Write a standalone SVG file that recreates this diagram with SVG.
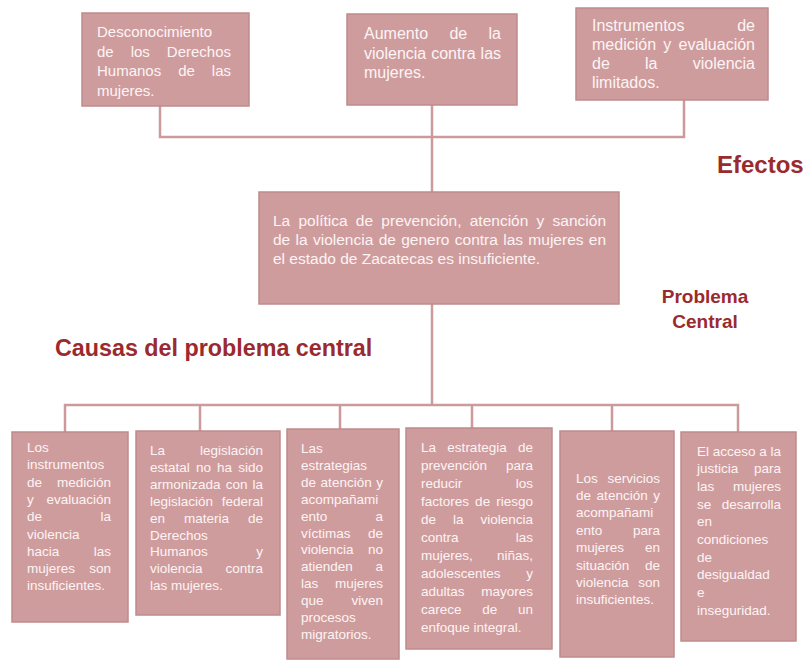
<svg xmlns="http://www.w3.org/2000/svg" width="804" height="662" viewBox="0 0 804 662">
<style>
.box{fill:#cf9c9e;stroke:#bf8b8d;stroke-width:1.5}
.ln{stroke:#cd9a9c;stroke-width:2.5;fill:none}
.t{font-family:"Liberation Sans",Arial,sans-serif;fill:#fdf4f4}
.s{font-size:13.5px}
.m{font-size:15px}
.l{font-size:16px}
.c{font-size:15.5px}
.h{font-family:"Liberation Sans",Arial,sans-serif;font-weight:bold;fill:#9b2a2f}
</style>
<rect width="804" height="662" fill="#ffffff"/>
<g id="connectors">
<path class="ln" d="M160,106V137H684V100"/>
<path class="ln" d="M432,105V192"/>
<path class="ln" d="M432,304V405"/>
<path class="ln" d="M65,432V405H738V432"/>
<path class="ln" d="M200,405V431M340,405V429M472,405V428M612,405V431"/>
</g>
<g id="efecto1">
<rect class="box" x="82" y="13" width="167" height="93"/>
<text class="t m"><tspan x="97" y="37">Desconocimiento</tspan><tspan x="97" y="56.5" word-spacing="12.81">de los Derechos</tspan><tspan x="97" y="76" word-spacing="12.81">Humanos de las</tspan><tspan x="97" y="95.5">mujeres.</tspan></text>
</g>
<g id="efecto2">
<rect class="box" x="347" y="14" width="170" height="91"/>
<text class="t l"><tspan x="364" y="39" word-spacing="16.92">Aumento de la</tspan><tspan x="364" y="59" word-spacing="0.48">violencia contra las</tspan><tspan x="364" y="78">mujeres.</tspan></text>
</g>
<g id="efecto3">
<rect class="box" x="576" y="8" width="192" height="92"/>
<text class="t l"><tspan x="592" y="30.5" word-spacing="48.28">Instrumentos de</tspan><tspan x="592" y="49.5" word-spacing="2.8">medición y evaluación</tspan><tspan x="592" y="68.5" word-spacing="30.81">de la violencia</tspan><tspan x="592" y="87.5">limitados.</tspan></text>
</g>
<g id="label-efectos">
<text class="h" x="717" y="173" font-size="24">Efectos</text>
</g>
<g id="problema-central">
<rect class="box" x="259" y="192" width="360" height="112"/>
<text class="t c"><tspan x="273" y="226" word-spacing="3.95">La política de prevención, atención y sanción</tspan><tspan x="273" y="245" word-spacing="1.03">de la violencia de genero contra las mujeres en</tspan><tspan x="273" y="264">el estado de Zacatecas es insuficiente.</tspan></text>
</g>
<g id="label-problema">
<text class="h" font-size="19" text-anchor="middle"><tspan x="705" y="303">Problema</tspan><tspan x="705" y="328">Central</tspan></text>
</g>
<g id="label-causas">
<text class="h" x="55" y="356" font-size="23.3">Causas del problema central</text>
</g>
<g id="causa1">
<rect class="box" x="12" y="432" width="116" height="190"/>
<text class="t s"><tspan x="27" y="452">Los</tspan><tspan x="27" y="469.3">instrumentos</tspan><tspan x="27" y="486.6" word-spacing="11.22">de medición</tspan><tspan x="27" y="503.9" word-spacing="8.97">y evaluación</tspan><tspan x="27" y="521.2" word-spacing="54.73">de la</tspan><tspan x="27" y="538.5">violencia</tspan><tspan x="27" y="555.8" word-spacing="30.73">hacia las</tspan><tspan x="27" y="573.1" word-spacing="10.48">mujeres son</tspan><tspan x="27" y="590.4">insuficientes.</tspan></text>
</g>
<g id="causa2">
<rect class="box" x="136" y="431" width="144" height="184"/>
<text class="t s"><tspan x="150" y="455" word-spacing="31.22">La legislación</tspan><tspan x="150" y="471.9" word-spacing="2.4">estatal no ha sido</tspan><tspan x="150" y="488.8" word-spacing="1.35">armonizada con la</tspan><tspan x="150" y="505.7" word-spacing="4.96">legislación federal</tspan><tspan x="150" y="522.6" word-spacing="15.23">en materia de</tspan><tspan x="150" y="539.5">Derechos</tspan><tspan x="150" y="556.4" word-spacing="44.73">Humanos y</tspan><tspan x="150" y="573.3" word-spacing="19.22">violencia contra</tspan><tspan x="150" y="590.2">las mujeres.</tspan></text>
</g>
<g id="causa3">
<rect class="box" x="287" y="429" width="112" height="230"/>
<text class="t s"><tspan x="301" y="453">Las</tspan><tspan x="301" y="469.9">estrategias</tspan><tspan x="301" y="486.8" word-spacing="0.85">de atención y</tspan><tspan x="301" y="503.7">acompañami</tspan><tspan x="301" y="520.6" word-spacing="44.47">ento a</tspan><tspan x="301" y="537.5" word-spacing="13.73">víctimas de</tspan><tspan x="301" y="554.4" word-spacing="10.72">violencia no</tspan><tspan x="301" y="571.3" word-spacing="18.95">atienden a</tspan><tspan x="301" y="588.2" word-spacing="12.99">las mujeres</tspan><tspan x="301" y="605.1" word-spacing="24.22">que viven</tspan><tspan x="301" y="622">procesos</tspan><tspan x="301" y="638.9">migratorios.</tspan></text>
</g>
<g id="causa4">
<rect class="box" x="406" y="428" width="146" height="221"/>
<text class="t s"><tspan x="421" y="452" word-spacing="7.6">La estrategia de</tspan><tspan x="421" y="470" word-spacing="15.2">prevención para</tspan><tspan x="421" y="488" word-spacing="49.74">reducir los</tspan><tspan x="421" y="506" word-spacing="2.35">factores de riesgo</tspan><tspan x="421" y="524" word-spacing="13.23">de la violencia</tspan><tspan x="421" y="542" word-spacing="53.48">contra las</tspan><tspan x="421" y="560" word-spacing="20.47">mujeres, niñas,</tspan><tspan x="421" y="578" word-spacing="21.95">adolescentes y</tspan><tspan x="421" y="596" word-spacing="12.96">adultas mayores</tspan><tspan x="421" y="614" word-spacing="16.98">carece de un</tspan><tspan x="421" y="632">enfoque integral.</tspan></text>
</g>
<g id="causa5">
<rect class="box" x="560" y="431" width="114" height="226"/>
<text class="t s"><tspan x="576" y="482.5" word-spacing="5.98">Los servicios</tspan><tspan x="576" y="499.9" word-spacing="1.85">de atención y</tspan><tspan x="576" y="517.3">acompañami</tspan><tspan x="576" y="534.7" word-spacing="26.96">ento para</tspan><tspan x="576" y="552.1" word-spacing="17.23">mujeres en</tspan><tspan x="576" y="569.5" word-spacing="11.96">situación de</tspan><tspan x="576" y="586.9" word-spacing="5.97">violencia son</tspan><tspan x="576" y="604.3">insuficientes.</tspan></text>
</g>
<g id="causa6">
<rect class="box" x="681" y="432" width="115" height="209"/>
<text class="t s"><tspan x="697" y="455.5">El acceso a la</tspan><tspan x="697" y="473.2" word-spacing="11.98">justicia para</tspan><tspan x="697" y="490.9" word-spacing="14.99">las mujeres</tspan><tspan x="697" y="508.6" word-spacing="6.73">se desarrolla</tspan><tspan x="697" y="526.3">en</tspan><tspan x="697" y="544">condiciones</tspan><tspan x="697" y="561.7">de</tspan><tspan x="697" y="579.4">desigualdad</tspan><tspan x="697" y="597.1">e</tspan><tspan x="697" y="614.8">inseguridad.</tspan></text>
</g>
</svg>
